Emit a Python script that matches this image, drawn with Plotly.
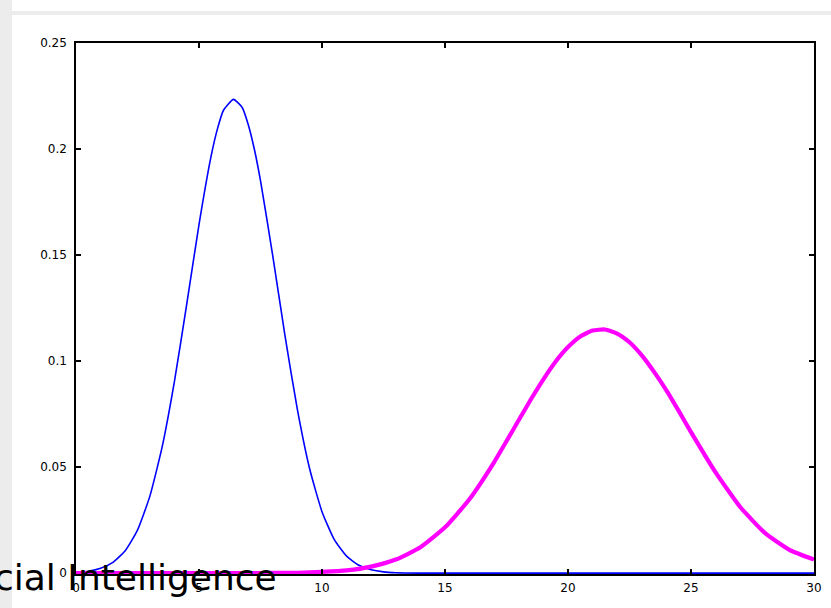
import plotly.graph_objects as go

# ---- data ----
blue_x = [0, 0.5, 1, 1.5, 2, 2.5, 3, 3.5, 4, 4.5, 5, 5.5, 5.75, 6, 6.4, 6.75, 7, 7.25,
          7.5, 8, 8.5, 9, 9.5, 10, 10.5, 11, 11.5, 12, 12.5, 13, 14, 16, 18, 20, 22,
          24, 26, 28, 30]
blue_y = [0.0004, 0.0009, 0.0023, 0.0051, 0.0106, 0.0203, 0.0362, 0.0594, 0.0903,
          0.1267, 0.1644, 0.1971, 0.2095, 0.2184, 0.2234, 0.2197, 0.2116, 0.1999,
          0.1851, 0.1495, 0.1117, 0.0771, 0.0491, 0.0290, 0.0158, 0.0080, 0.0037,
          0.0016, 0.0006, 0.0002, 0, 0, 0, 0, 0, 0, 0, 0, 0]

magenta_x = [0, 2, 4, 6, 8, 9, 10, 11, 12, 13, 14, 15, 16, 17, 18, 18.5, 19, 19.5,
             20, 20.5, 21, 21.5, 22, 22.5, 23, 23.5, 24, 24.5, 25, 26, 27, 28, 29, 30]
magenta_y = [0, 0, 0, 0, 0.0001, 0.0002, 0.0006, 0.0013, 0.0031, 0.0064, 0.0122,
             0.0216, 0.0350, 0.0524, 0.0722, 0.0821, 0.0914, 0.0998, 0.1066, 0.1116,
             0.1144, 0.1149, 0.1130, 0.1089, 0.1027, 0.0949, 0.0862, 0.0765, 0.0665,
             0.0475, 0.0312, 0.0190, 0.0110, 0.0064]

x_ticks = [0, 5, 10, 15, 20, 25, 30]
x_tick_text = ["0", "5", "10", "15", "20", "25", "30"]
y_ticks = [0, 0.05, 0.1, 0.15, 0.2, 0.25]
y_tick_text = ["0", "0.05", "0.1", "0.15", "0.2", "0.25"]

overlay_text = "cial Intelligence"

# ---- geometry helpers (pixel -> paper) ----
W, H = 831, 608
L, R, T, B = 76, 17, 43, 34
PW, PH = W - L - R, H - T - B


def px(x):
    return (x - L) / PW


def py(y):
    return (H - B - y) / PH


fig = go.Figure()
fig.add_trace(go.Scatter(x=blue_x, y=blue_y, mode="lines",
                         line=dict(color="#0000ff", width=1.6, shape="spline", smoothing=0.5),
                         hoverinfo="skip", showlegend=False))
fig.add_trace(go.Scatter(x=magenta_x, y=magenta_y, mode="lines",
                         line=dict(color="#ff00ff", width=4.2, shape="spline", smoothing=0.5),
                         hoverinfo="skip", showlegend=False))

axis_common = dict(showgrid=False, zeroline=False, showline=True, linecolor="#000000",
                   linewidth=1.5, mirror="ticks", ticks="inside", ticklen=5,
                   tickwidth=1.5, tickcolor="#000000", automargin=False,
                   tickfont=dict(family="DejaVu Sans, Verdana, sans-serif", size=12,
                                 color="#000000"))

fig.update_xaxes(range=[0, 30], tickvals=x_ticks, ticktext=x_tick_text,
                 ticklabelstandoff=2, **axis_common)
fig.update_yaxes(range=[-0.0004, 0.25], tickvals=y_ticks, ticktext=y_tick_text,
                 ticklabelstandoff=5, **axis_common)

gray = "#ececec"
fig.update_layout(
    width=W, height=H,
    margin=dict(l=L, r=R, t=T, b=B, pad=0, autoexpand=False),
    paper_bgcolor="#ffffff", plot_bgcolor="#ffffff",
    shapes=[
        dict(type="rect", xref="paper", yref="paper", x0=px(0), x1=px(12),
             y0=py(H), y1=py(0), fillcolor=gray, line=dict(width=0), layer="below"),
        dict(type="rect", xref="paper", yref="paper", x0=px(12), x1=px(W),
             y0=py(15), y1=py(11), fillcolor=gray, line=dict(width=0), layer="below"),
    ],
    annotations=[
        dict(text=overlay_text, xref="paper", yref="paper", x=px(279), y=py(577),
             xanchor="right", yanchor="middle", showarrow=False,
             font=dict(family="DejaVu Sans, Verdana, sans-serif", size=36, color="#000000")),
    ],
)

fig.write_html("out.html")
